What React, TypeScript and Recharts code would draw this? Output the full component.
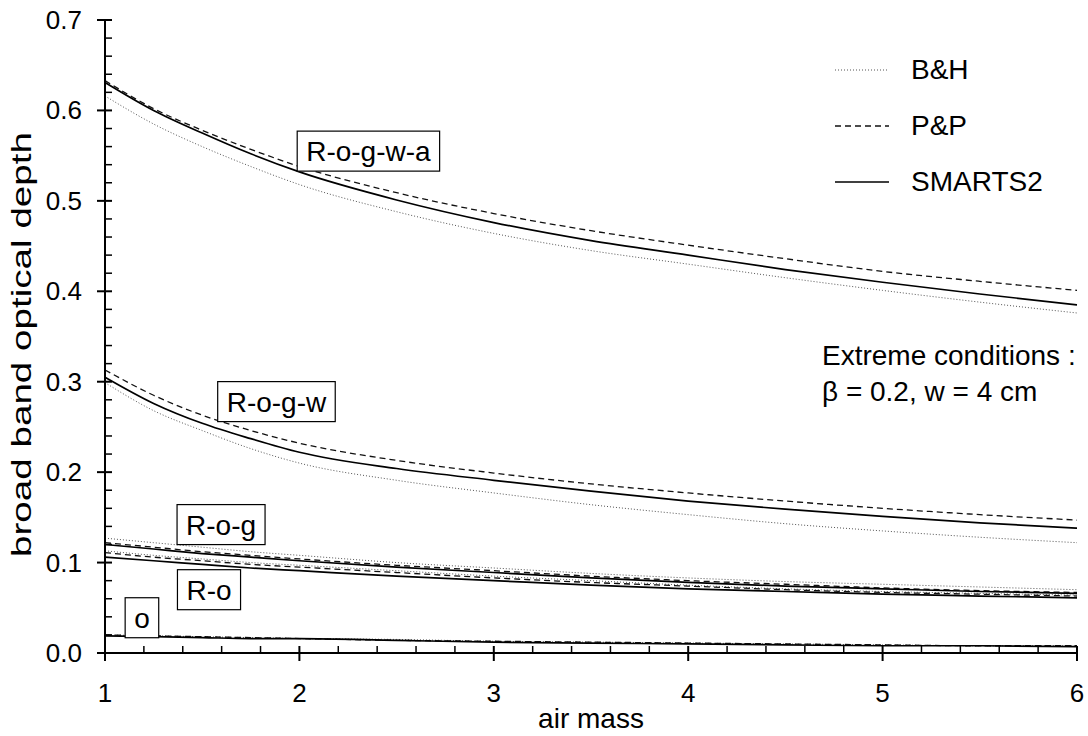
import { LineChart, Line, XAxis, YAxis, ReferenceDot, Legend } from 'recharts';

const airMass = [1, 1.25, 1.5, 1.75, 2, 2.5, 3, 3.5, 4, 4.5, 5, 5.5, 6];

// R-o-g-w-a
const rogwaBH = [0.616, 0.585, 0.56, 0.538, 0.518, 0.488, 0.464, 0.445, 0.43, 0.415, 0.401, 0.388, 0.376];
const rogwaPP = [0.633, 0.602, 0.578, 0.557, 0.538, 0.509, 0.486, 0.467, 0.451, 0.436, 0.422, 0.411, 0.401];
const rogwaSM = [0.631, 0.6, 0.575, 0.552, 0.532, 0.501, 0.476, 0.456, 0.44, 0.424, 0.41, 0.397, 0.385];
// R-o-g-w
const rogwBH = [0.299, 0.268, 0.246, 0.226, 0.21, 0.191, 0.177, 0.164, 0.153, 0.143, 0.135, 0.128, 0.122];
const rogwPP = [0.313, 0.285, 0.263, 0.246, 0.232, 0.213, 0.199, 0.187, 0.177, 0.168, 0.16, 0.153, 0.147];
const rogwSM = [0.305, 0.276, 0.254, 0.237, 0.222, 0.204, 0.191, 0.179, 0.168, 0.159, 0.151, 0.144, 0.138];
// R-o-g
const rogBH = [0.127, 0.122, 0.117, 0.112, 0.108, 0.1, 0.094, 0.088, 0.083, 0.079, 0.076, 0.073, 0.07];
const rogPP = [0.122, 0.117, 0.112, 0.108, 0.104, 0.097, 0.091, 0.085, 0.08, 0.076, 0.072, 0.069, 0.067];
const rogSM = [0.12, 0.115, 0.11, 0.106, 0.102, 0.095, 0.089, 0.083, 0.078, 0.074, 0.071, 0.068, 0.066];
// R-o
const roBH = [0.113, 0.108, 0.104, 0.1, 0.097, 0.091, 0.085, 0.08, 0.075, 0.071, 0.068, 0.066, 0.064];
const roPP = [0.111, 0.106, 0.102, 0.098, 0.095, 0.089, 0.083, 0.078, 0.074, 0.07, 0.067, 0.065, 0.063];
const roSM = [0.106, 0.102, 0.098, 0.094, 0.091, 0.085, 0.08, 0.075, 0.071, 0.068, 0.065, 0.063, 0.061];
// o
const oBH = [0.02, 0.019, 0.018, 0.017, 0.016, 0.015, 0.013, 0.012, 0.011, 0.01, 0.009, 0.008, 0.008];
const oPP = [0.02, 0.019, 0.018, 0.017, 0.016, 0.014, 0.013, 0.012, 0.011, 0.01, 0.009, 0.008, 0.008];
const oSM = [0.019, 0.018, 0.017, 0.016, 0.016, 0.014, 0.012, 0.011, 0.01, 0.009, 0.008, 0.008, 0.007];

// every tick (majors get a label)
const xTicks = [1, 1.2, 1.4, 1.6, 1.8, 2, 2.2, 2.4, 2.6, 2.8, 3, 3.2, 3.4, 3.6, 3.8, 4, 4.2, 4.4, 4.6, 4.8, 5, 5.2, 5.4, 5.6, 5.8, 6];
const yTicks = [
  0, 0.02, 0.04, 0.06, 0.08, 0.1, 0.12, 0.14, 0.16, 0.18, 0.2, 0.22, 0.24, 0.26, 0.28, 0.3, 0.32, 0.34,
  0.36, 0.38, 0.4, 0.42, 0.44, 0.46, 0.48, 0.5, 0.52, 0.54, 0.56, 0.58, 0.6, 0.62, 0.64, 0.66, 0.68, 0.7,
];

const models = [
  { key: 'bh', name: 'B&H', dash: '1 2', color: '#555', width: 1 },
  { key: 'pp', name: 'P&P', dash: '6 4', color: '#111', width: 1.3 },
  { key: 'sm', name: 'SMARTS2', dash: undefined, color: '#000', width: 1.7 },
];

const groups = [
  { key: 'rogwa', bh: rogwaBH, pp: rogwaPP, sm: rogwaSM },
  { key: 'rogw', bh: rogwBH, pp: rogwPP, sm: rogwSM },
  { key: 'rog', bh: rogBH, pp: rogPP, sm: rogSM },
  { key: 'ro', bh: roBH, pp: roPP, sm: roSM },
  { key: 'o', bh: oBH, pp: oPP, sm: oSM },
];

const labels = [
  { text: 'R-o-g-w-a', x: 2.355, y: 0.555 },
  { text: 'R-o-g-w', x: 1.882, y: 0.278 },
  { text: 'R-o-g', x: 1.597, y: 0.142 },
  { text: 'R-o', x: 1.535, y: 0.07 },
  { text: 'o', x: 1.19, y: 0.039 },
];

const data = airMass.map((m, i) => {
  const row: any = { m };
  groups.forEach((g: any) => models.forEach((md) => { row[`${g.key}_${md.key}`] = g[md.key][i]; }));
  return row;
});

const FONT = '"Liberation Sans", Arial, sans-serif';
const CHAR_W: any = { R: 0.722, '-': 0.333, o: 0.556, g: 0.556, w: 0.722, a: 0.556 };

const isMajor = (v: number, step: number) => Math.abs(v / step - Math.round(v / step)) < 1e-6;

function XTick(props: any) {
  const { x, y, payload } = props;
  const major = isMajor(payload.value, 1);
  return (
    <g>
      <line x1={x} x2={x} y1={y - 7} y2={major ? y + 8 : y} stroke="#000" strokeWidth={major ? 2 : 1.5} />
      {major && (
        <text x={x} y={y + 49} textAnchor="middle" fontSize={26} fontFamily={FONT} fill="#000">{payload.value}</text>
      )}
    </g>
  );
}

function YTick(props: any) {
  const { x, y, payload } = props;
  const major = isMajor(payload.value, 0.1);
  return (
    <g>
      <line x1={major ? x - 8 : x} x2={x + 7} y1={y} y2={y} stroke="#000" strokeWidth={major ? 2 : 1.5} />
      {major && (
        <text x={x - 23} y={y + 9} textAnchor="end" fontSize={26} fontFamily={FONT} fill="#000">{payload.value.toFixed(1)}</text>
      )}
    </g>
  );
}

function YTitle(props: any) {
  const { viewBox } = props;
  const cx = 21;
  const cy = viewBox.y + viewBox.height / 2 + 8;
  return (
    <text
      x={cx}
      y={cy}
      transform={`rotate(-90 ${cx} ${cy})`}
      textAnchor="middle"
      dominantBaseline="central"
      fontSize={28}
      fontFamily={FONT}
      fill="#000"
      textLength={425}
      lengthAdjust="spacingAndGlyphs"
    >
      broad band optical depth
    </text>
  );
}

function BoxLabel(props: any) {
  const { cx, cy, text } = props;
  const tw = text.split('').reduce((s: number, c: string) => s + (CHAR_W[c] ?? 0.556), 0) * 28;
  const w = tw + 18;
  const h = 40;
  return (
    <g>
      <rect x={cx - w / 2} y={cy - h / 2} width={w} height={h} fill="#fff" stroke="#000" strokeWidth={1.2} />
      <text x={cx} y={cy + 10} textAnchor="middle" fontSize={28} fontFamily={FONT} fill="#000">{text}</text>
    </g>
  );
}

function LegendBox() {
  return (
    <div style={{ fontFamily: FONT, fontSize: 28, color: '#000' }}>
      {models.map((md) => (
        <div key={md.key} style={{ display: 'flex', alignItems: 'center', height: 56 }}>
          <svg width={60} height={10} style={{ marginRight: 20 }}>
            <line x1={4} y1={5} x2={58} y2={5} stroke={md.color} strokeWidth={md.width} strokeDasharray={md.dash} />
          </svg>
          <span>{md.name}</span>
        </div>
      ))}
    </div>
  );
}

export default function App() {
  return (
    <div style={{ position: 'absolute', left: 0, top: 0, width: 1088, height: 736, background: '#fff' }}>
      <LineChart width={1088} height={736} data={data} margin={{ top: 20, right: 11, bottom: 23, left: 0 }}>
        <XAxis
          dataKey="m"
          type="number"
          domain={[1, 6]}
          ticks={xTicks}
          interval={0}
          tickSize={0}
          tickMargin={0}
          tickLine={false}
          height={60}
          stroke="#000"
          strokeWidth={2}
          tick={<XTick />}
          label={{ value: 'air mass', position: 'center', dy: 35, fontSize: 28, fontFamily: FONT, fill: '#000' }}
        />
        <YAxis
          type="number"
          domain={[0, 0.7]}
          ticks={yTicks}
          interval={0}
          width={105}
          tickSize={0}
          tickMargin={0}
          tickLine={false}
          stroke="#000"
          strokeWidth={2}
          tick={<YTick />}
          label={<YTitle />}
        />
        {groups.map((g) =>
          models.map((md) => (
            <Line
              key={`${g.key}_${md.key}`}
              dataKey={`${g.key}_${md.key}`}
              type="monotone"
              stroke={md.color}
              strokeWidth={md.width}
              strokeDasharray={md.dash}
              dot={false}
              activeDot={false}
              isAnimationActive={false}
            />
          ))
        )}
        {labels.map((l) => (
          <ReferenceDot key={l.text} x={l.x} y={l.y} r={0} ifOverflow="visible" shape={(p: any) => <BoxLabel {...p} text={l.text} />} />
        ))}
        <Legend
          layout="vertical"
          align="center"
          verticalAlign="middle"
          content={() => <LegendBox />}
          wrapperStyle={{ position: 'absolute', left: 831, top: 42, width: 250 }}
        />
      </LineChart>
      <div style={{ position: 'absolute', left: 822, top: 338, fontFamily: FONT, fontSize: 28, lineHeight: '36px', color: '#000' }}>
        <div>Extreme conditions :</div>
        <div>β = 0.2, w = 4 cm</div>
      </div>
    </div>
  );
}
